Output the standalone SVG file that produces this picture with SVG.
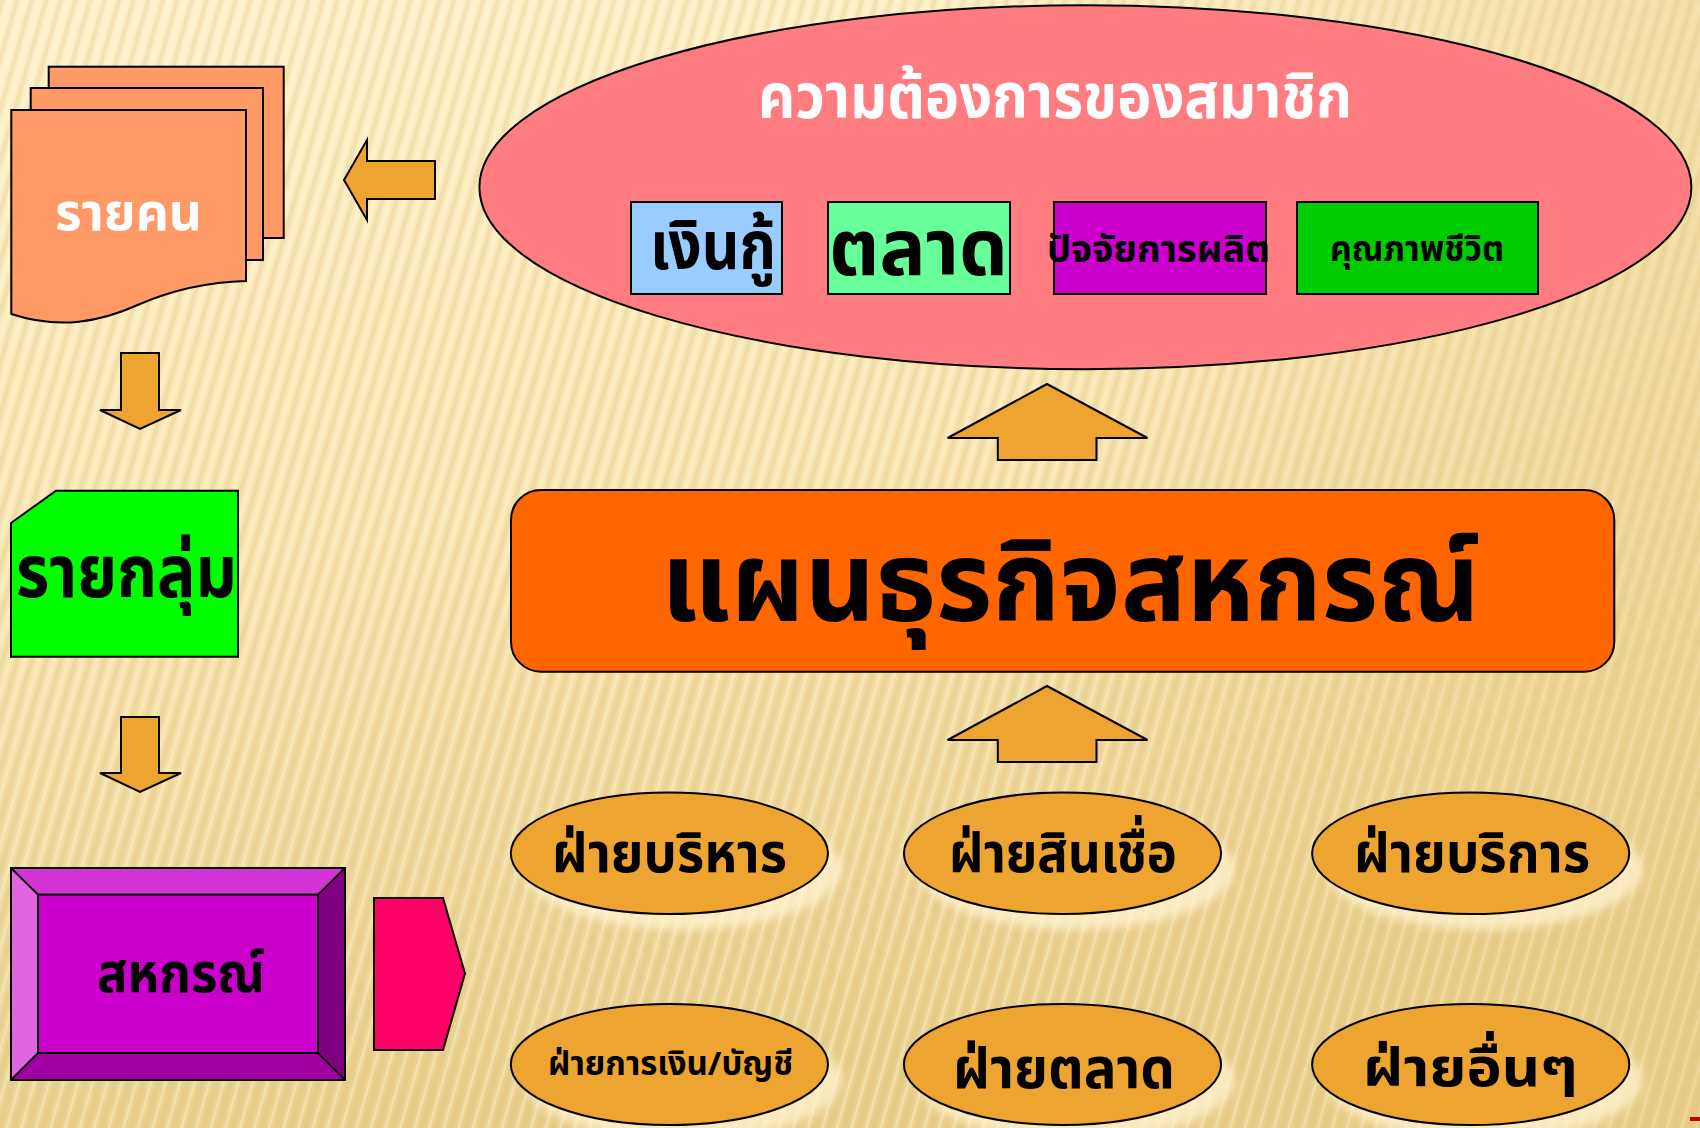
<svg xmlns="http://www.w3.org/2000/svg" width="1700" height="1128" viewBox="0 0 1700 1128">
<defs>
<linearGradient id="bg" x1="0" y1="0" x2="0.25" y2="1">
<stop offset="0" stop-color="#FDF1C9"/>
<stop offset="0.5" stop-color="#F8E6B2"/>
<stop offset="1" stop-color="#E8CF8C"/>
</linearGradient>
<linearGradient id="bgr" x1="0" y1="0" x2="1" y2="0">
<stop offset="0" stop-color="#E5C880" stop-opacity="0"/>
<stop offset="0.6" stop-color="#E5C880" stop-opacity="0"/>
<stop offset="1" stop-color="#E5C880" stop-opacity="0.35"/>
</linearGradient>
<pattern id="stripes" width="14" height="14" patternUnits="userSpaceOnUse" patternTransform="rotate(16)">
<rect x="0" y="0" width="5" height="14" fill="#D9B870" opacity="0.22"/>
<rect x="8" y="0" width="3" height="14" fill="#FFF8DC" opacity="0.35"/>
</pattern>
<filter id="blur" x="-20%" y="-20%" width="140%" height="140%">
<feGaussianBlur stdDeviation="5"/>
</filter>
<style>
.th{font-family:"Noto Sans Thai","Noto Sans Thai Looped","Noto Sans","DejaVu Sans",sans-serif;font-weight:bold;}
.ln{stroke:#000;stroke-width:2;}
.arr{fill:#EEA431;stroke:#000;stroke-width:2;stroke-linejoin:miter;}
.dept{fill:#EEA431;stroke:#000;stroke-width:2;}
.sh{fill:#FFF4D2;opacity:0.75;filter:url(#blur);}
</style>
</defs>

<rect width="1700" height="1128" fill="url(#bg)"/>
<rect width="1700" height="1128" fill="url(#stripes)"/>
<rect width="1700" height="1128" fill="url(#bgr)"/>

<!-- Members' needs ellipse -->
<g id="needs">
<ellipse cx="1085.4" cy="187.2" rx="606" ry="182" fill="#FF7C80" class="ln"/>
<text class="th" x="758" y="118" font-size="62" fill="#FFFFFF" textLength="594" lengthAdjust="spacingAndGlyphs">ความต้องการของสมาชิก</text>
</g>
<g id="need-loan">
<rect x="631" y="202" width="151" height="92" fill="#99CCFF" class="ln"/>
<text class="th" x="650" y="269" font-size="68" fill="#000" textLength="126" lengthAdjust="spacingAndGlyphs">เงินกู้</text>
</g>
<g id="need-market">
<rect x="828" y="202" width="182" height="92" fill="#66FF99" class="ln"/>
<text class="th" x="829" y="275" font-size="78" fill="#000" textLength="179" lengthAdjust="spacingAndGlyphs">ตลาด</text>
</g>
<g id="need-production">
<rect x="1054" y="202" width="212" height="92" fill="#CC00CC" class="ln"/>
<text class="th" x="1047" y="262" font-size="37" fill="#000" textLength="223" lengthAdjust="spacingAndGlyphs">ปัจจัยการผลิต</text>
</g>
<g id="need-life">
<rect x="1297" y="202" width="241" height="92" fill="#00CC00" class="ln"/>
<text class="th" x="1330" y="261" font-size="35" fill="#000" textLength="174" lengthAdjust="spacingAndGlyphs">คุณภาพชีวิต</text>
</g>

<!-- Individual (multi-document) -->
<g id="individual">
<rect x="48.7" y="66.7" width="235" height="171.3" fill="#FF9966" class="ln"/>
<rect x="30.7" y="88" width="232.3" height="172" fill="#FF9966" class="ln"/>
<path d="M11.3,110 H246 V281 C210,282 175,289 140,304 C100,322 60,330 11.3,314 Z" fill="#FF9966" class="ln"/>
<text class="th" x="55" y="230" font-size="52" fill="#FFFFFF" textLength="147" lengthAdjust="spacingAndGlyphs">รายคน</text>
</g>

<!-- Group -->
<g id="group">
<path d="M11,523 L56,490.7 H238 V656.8 H11 Z" fill="#00FF00" class="ln"/>
<text class="th" x="16" y="597" font-size="72" fill="#000" textLength="221" lengthAdjust="spacingAndGlyphs">รายกลุ่ม</text>
</g>

<!-- Cooperative bevel -->
<g id="coop">
<rect x="11" y="868" width="334" height="212" fill="#CC00CC" class="ln"/>
<polygon points="11,868 345,868 318,894.6 38,894.6" fill="#D633D6"/>
<polygon points="11,868 38,894.6 38,1053 11,1080" fill="#E066E0"/>
<polygon points="345,868 345,1080 318,1053 318,894.6" fill="#800080"/>
<polygon points="11,1080 38,1053 318,1053 345,1080" fill="#A300A3"/>
<rect x="38" y="894.6" width="280" height="158.4" fill="#CC00CC" class="ln"/>
<line x1="11" y1="868" x2="38" y2="894.6" class="ln"/>
<line x1="345" y1="868" x2="318" y2="894.6" class="ln"/>
<line x1="11" y1="1080" x2="38" y2="1053" class="ln"/>
<line x1="345" y1="1080" x2="318" y2="1053" class="ln"/>
<rect x="11" y="868" width="334" height="212" fill="none" class="ln"/>
<text class="th" x="97" y="992" font-size="55" fill="#000" textLength="168" lengthAdjust="spacingAndGlyphs">สหกรณ์</text>
</g>
<g id="pentagon">
<polygon points="374,898 443,898 465,973.4 443,1050 374,1050" fill="#FF0066" class="ln"/>
</g>

<!-- Business plan -->
<g id="plan">
<rect x="511" y="490" width="1103.3" height="181.7" rx="30" ry="30" fill="#FF6600" class="ln"/>
<text class="th" x="661" y="621" font-size="112" fill="#000" textLength="819" lengthAdjust="spacingAndGlyphs">แผนธุรกิจสหกรณ์</text>
</g>

<!-- Departments -->
<g id="dept-admin">
<ellipse cx="683" cy="869" rx="158.6" ry="60.7" class="sh"/>
<ellipse cx="669.4" cy="853.3" rx="158.6" ry="60.7" class="dept"/>
<text class="th" x="552" y="872" font-size="55" fill="#000" textLength="235" lengthAdjust="spacingAndGlyphs">ฝ่ายบริหาร</text>
</g>
<g id="dept-credit">
<ellipse cx="1076" cy="869" rx="158.6" ry="60.7" class="sh"/>
<ellipse cx="1062.5" cy="853.3" rx="158.6" ry="60.7" class="dept"/>
<text class="th" x="949" y="872" font-size="55" fill="#000" textLength="228" lengthAdjust="spacingAndGlyphs">ฝ่ายสินเชื่อ</text>
</g>
<g id="dept-service">
<ellipse cx="1484" cy="869" rx="158.6" ry="60.7" class="sh"/>
<ellipse cx="1470.7" cy="853.3" rx="158.6" ry="60.7" class="dept"/>
<text class="th" x="1354" y="872" font-size="55" fill="#000" textLength="236" lengthAdjust="spacingAndGlyphs">ฝ่ายบริการ</text>
</g>
<g id="dept-finance">
<ellipse cx="683" cy="1080" rx="158.6" ry="60.5" class="sh"/>
<ellipse cx="669.4" cy="1064.5" rx="158.6" ry="60.5" class="dept"/>
<text class="th" x="548" y="1075" font-size="33" fill="#000" textLength="245" lengthAdjust="spacingAndGlyphs">ฝ่ายการเงิน/บัญชี</text>
</g>
<g id="dept-marketing">
<ellipse cx="1076" cy="1080" rx="158.6" ry="60.5" class="sh"/>
<ellipse cx="1062.5" cy="1064.5" rx="158.6" ry="60.5" class="dept"/>
<text class="th" x="953" y="1088" font-size="56" fill="#000" textLength="222" lengthAdjust="spacingAndGlyphs">ฝ่ายตลาด</text>
</g>
<g id="dept-other">
<ellipse cx="1484" cy="1080" rx="158.6" ry="60.5" class="sh"/>
<ellipse cx="1470.7" cy="1064.5" rx="158.6" ry="60.5" class="dept"/>
<text class="th" x="1363" y="1086" font-size="53" fill="#000" textLength="215" lengthAdjust="spacingAndGlyphs">ฝ่ายอื่นๆ</text>
</g>

<!-- Connectors (block arrows) -->
<g id="connectors">
<polygon class="arr" points="344,180 367,140 367,161 435,161 435,199 367,199 367,220"/>
<polygon class="arr" points="121,353 159,353 159,410 181,410 140,429 100,410 121,410"/>
<polygon class="arr" points="121,717 159,717 159,773 181,773 140,792 100,773 121,773"/>
<polygon class="arr" points="1047,384 1147.5,438 1096.5,438 1096.5,460 997.8,460 997.8,438 947.6,438"/>
<polygon class="arr" points="1047,686 1147.5,740 1096.5,740 1096.5,762 997.8,762 997.8,740 947.6,740"/>
</g>

<rect x="1690" y="1117" width="10" height="4" fill="#CC0000"/>
</svg>
